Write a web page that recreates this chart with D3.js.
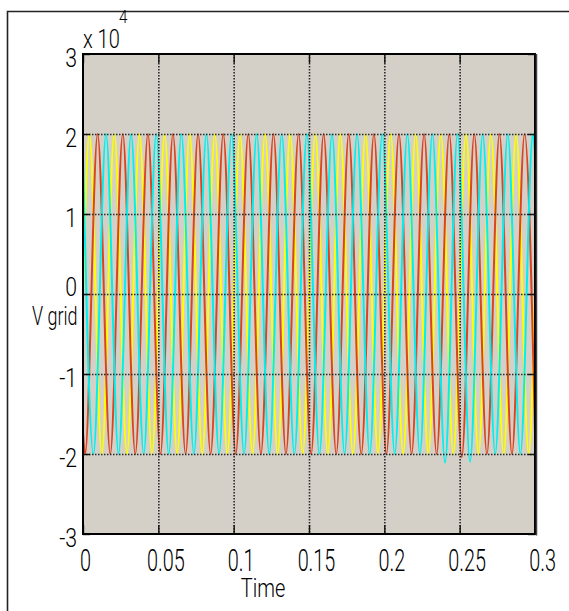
<!DOCTYPE html>
<html>
<head>
<meta charset="utf-8">
<script src="https://cdn.jsdelivr.net/npm/d3@7"></script>
<style>
  html, body { margin: 0; padding: 0; background: #fff; }
  svg { display: block; }
  text { font-family: Roboto, "Liberation Sans", Arial, sans-serif; font-weight: 300; fill: #000; }
</style>
</head>
<body>
<svg id="chart" width="569" height="611"></svg>
<script>
// axis ticks
const xTicks = [0, 0.05, 0.1, 0.15, 0.2, 0.25, 0.3];
const yTicks = [-30000, -20000, -10000, 0, 10000, 20000, 30000];

// phase voltages: turning points (peaks/troughs) plus both ends
const yellowT = [0, 0.0042, 0.0125, 0.0208, 0.0292, 0.0375, 0.0458, 0.0542, 0.0625, 0.0708, 0.0792,
  0.0875, 0.0958, 0.1042, 0.1125, 0.1208, 0.1292, 0.1375, 0.1458, 0.1542, 0.1625, 0.1708, 0.1792,
  0.1875, 0.1958, 0.2042, 0.2125, 0.2208, 0.2292, 0.2375, 0.2458, 0.2542, 0.2625, 0.2708, 0.2792,
  0.2875, 0.2958, 0.3];
const yellowV = [0,
  20000, -20000, 20000, -20000, 20000, -20000, 20000, -20000, 20000, -20000,
  20000, -20000, 20000, -20000, 20000, -20000, 20000, -20000, 20000, -20000,
  20000, -20000, 20000, -20000, 20000, -20000, 20000, -20000, 20000, -20000,
  20000, -20000, 20000, -20000, 20000, -20000,
  0];

const redT = [0, 0.0014, 0.0097, 0.0181, 0.0264, 0.0347, 0.0431, 0.0514, 0.0597, 0.0681, 0.0764,
  0.0847, 0.0931, 0.1014, 0.1097, 0.1181, 0.1264, 0.1347, 0.1431, 0.1514, 0.1597, 0.1681, 0.1764,
  0.1847, 0.1931, 0.2014, 0.2097, 0.2181, 0.2264, 0.2347, 0.2431, 0.2514, 0.2597, 0.2681, 0.2764,
  0.2847, 0.2931, 0.3];
const redV = [-17300,
  -20000, 20000, -20000, 20000, -20000, 20000, -20000, 20000, -20000, 20000,
  -20000, 20000, -20000, 20000, -20000, 20000, -20000, 20000, -20000, 20000,
  -20000, 20000, -20000, 20000, -20000, 20000, -20000, 20000, -20000, 20000,
  -20400, 20000, -20000, 20000, -20000, 20000,
  -17300];

const cyanT = [0, 0.0069, 0.0153, 0.0236, 0.0319, 0.0403, 0.0486, 0.0569, 0.0653, 0.0736, 0.0819,
  0.0903, 0.0986, 0.1069, 0.1153, 0.1236, 0.1319, 0.1403, 0.1486, 0.1569, 0.1653, 0.1736, 0.1819,
  0.1903, 0.1986, 0.2069, 0.2153, 0.2236, 0.2319, 0.2403, 0.2486, 0.2569, 0.2653, 0.2736, 0.2819,
  0.2903, 0.2986, 0.3];
const cyanV = [17300,
  -20000, 20000, -20000, 20000, -20000, 20000, -20000, 20000, -20000, 20000,
  -20000, 20000, -20000, 20000, -20000, 20000, -20000, 20000, -20000, 20000,
  -20000, 20000, -20000, 20000, -20000, 20000, -20000, 20000, -21100, 20000,
  -21000, 20000, -20000, 20000, -20000, 20000,
  17300];

const series = [
  { t: yellowT, v: yellowV, color: "#ffff00" },
  { t: redT, v: redV, color: "#dc4420" },
  { t: cyanT, v: cyanV, color: "#00f0f0" }
];

const svg = d3.select("#chart");
const margin = { top: 54, right: 34, bottom: 77, left: 83 };
const width = 569 - margin.left - margin.right;
const height = 611 - margin.top - margin.bottom;

const x = d3.scaleLinear().domain([0, 0.3]).range([0, width]);
const y = d3.scaleLinear().domain([-30000, 30000]).range([height, 0]);

// outer figure frame
svg.append("path")
  .attr("d", "M7.5,611V11.5H569")
  .attr("fill", "none")
  .attr("stroke", "#222")
  .attr("stroke-width", 1.6);

const g = svg.append("g").attr("transform", `translate(${margin.left},${margin.top})`);

g.append("rect")
  .attr("width", width).attr("height", height)
  .attr("fill", "#d4d0c8");

g.append("clipPath").attr("id", "clip")
  .append("rect").attr("width", width).attr("height", height);

// waveforms
const line = d3.line()
  .x(d => x(d[0]))
  .y(d => y(d[1]))
  .curve(d3.curveMonotoneX);

g.append("g").attr("clip-path", "url(#clip)")
  .selectAll("path")
  .data(series)
  .join("path")
  .attr("d", s => line(d3.zip(s.t, s.v)))
  .attr("fill", "none")
  .attr("stroke", s => s.color)
  .attr("stroke-width", 2);

// dotted grid, on top of the traces like the scope does
const gridX = g.append("g")
  .call(d3.axisBottom(x).tickValues(xTicks.slice(1, -1)).tickSize(height).tickFormat(""));
const gridY = g.append("g")
  .call(d3.axisLeft(y).tickValues(yTicks.slice(1, -1)).tickSize(-width).tickFormat(""));
[gridX, gridY].forEach(a => {
  a.select(".domain").remove();
  a.selectAll(".tick line")
    .attr("stroke", "#2a2a2a")
    .attr("stroke-width", 1.6)
    .attr("stroke-dasharray", "1.5,1.5");
});

// inner tick marks
const tickOpts = [
  [d3.axisBottom(x).tickValues(xTicks).tickSize(-9), `translate(0,${height})`],
  [d3.axisTop(x).tickValues(xTicks).tickSize(-9), null],
  [d3.axisLeft(y).tickValues(yTicks).tickSize(-7), null],
  [d3.axisRight(y).tickValues(yTicks).tickSize(-7), `translate(${width},0)`]
];
tickOpts.forEach(([ax, tr]) => {
  const a = g.append("g").attr("transform", tr).call(ax.tickFormat(""));
  a.select(".domain").remove();
  a.selectAll(".tick line").attr("stroke", "#111").attr("stroke-width", 1.4);
});

// plot frame
g.append("rect")
  .attr("width", width).attr("height", height)
  .attr("fill", "none")
  .attr("stroke", "#000")
  .attr("stroke-width", 2);
g.append("line")
  .attr("x1", width + 1.5).attr("x2", width + 1.5)
  .attr("y1", 0).attr("y2", height + 1.5)
  .attr("stroke", "#444").attr("stroke-width", 1.5);

// tick labels
const yAxis = g.append("g")
  .call(d3.axisLeft(y).tickValues(yTicks).tickSize(0).tickFormat(d => String(d / 10000)));
yAxis.select(".domain").remove();
yAxis.selectAll(".tick text")
  .attr("x", 0).attr("dy", null)
  .attr("font-size", 25)
  .attr("text-anchor", "end")
  .attr("transform", d => `translate(-6,${d === 0 ? 1 : 12}) scale(0.85,1)`);

const xAxis = g.append("g")
  .attr("transform", `translate(0,${height})`)
  .call(d3.axisBottom(x).tickValues(xTicks).tickSize(0).tickFormat(d => String(d)));
xAxis.select(".domain").remove();
xAxis.selectAll(".tick text")
  .attr("y", 0).attr("dy", null)
  .attr("font-size", 32)
  .attr("text-anchor", "middle")
  .attr("transform", d => `translate(${d === 0 ? 2 : 7},37) scale(0.62,1)`);

// exponent and axis titles
svg.append("text")
  .attr("transform", "translate(83,48) scale(0.8,1)")
  .attr("font-size", 25)
  .text("x 10");
svg.append("text")
  .attr("transform", "translate(119,23) scale(0.8,1)")
  .attr("font-size", 19)
  .text("4");
svg.append("text")
  .attr("transform", "translate(32,325) scale(0.72,1)")
  .attr("font-size", 25)
  .text("V grid");
svg.append("text")
  .attr("transform", "translate(263,597) scale(0.8,1)")
  .attr("font-size", 25)
  .attr("text-anchor", "middle")
  .text("Time");
</script>
</body>
</html>
